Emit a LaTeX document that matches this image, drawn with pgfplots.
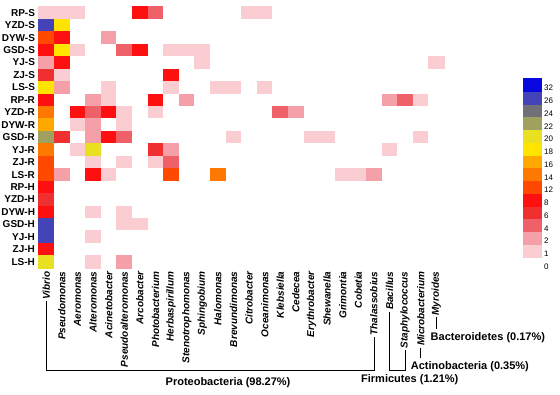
\documentclass[border=0pt]{standalone}
\usepackage{pgfplots}
\pgfplotsset{compat=1.18}
\usepackage{fontspec}
\setmainfont{Liberation Sans}
\pgfplotsset{colormap={abund}{rgb255=(255,255,255) rgb255=(250,205,210) rgb255=(245,160,168) rgb255=(240,96,104) rgb255=(240,48,48) rgb255=(255,16,16) rgb255=(255,72,0) rgb255=(255,120,0) rgb255=(255,168,0) rgb255=(255,228,0) rgb255=(232,224,32) rgb255=(160,160,96) rgb255=(112,112,120) rgb255=(68,68,184) rgb255=(8,8,224)}}
\pgfdeclareplotmark{cell}{\pgfpathrectangle{\pgfpoint{-7.8pt}{-6.225pt}}{\pgfpoint{15.6pt}{12.45pt}}\pgfusepathqfillstroke}
\pgfdeclareplotmark{cbcell}{\pgfpathrectangle{\pgfpoint{-9pt}{-6.37pt}}{\pgfpoint{18pt}{12.74pt}}\pgfusepathqfillstroke}
\newcommand{\xlf}{\bfseries\itshape\fontsize{10}{12}\selectfont}
\newcommand{\phf}{\bfseries\fontsize{11}{13}\selectfont}
\newlength\wVib \newlength\wTha \newlength\wBac \newlength\wSta \newlength\wMic \newlength\wMyr
\begin{document}
\settowidth{\wVib}{\xlf Vibrio}%
\settowidth{\wTha}{\xlf Thalassobius}%
\settowidth{\wBac}{\xlf Bacillus}%
\settowidth{\wSta}{\xlf Staphylococcus}%
\settowidth{\wMic}{\xlf Microbacterium}%
\settowidth{\wMyr}{\xlf Myroides}%
\begin{tikzpicture}
\begin{axis}[
  name=hm, at={(0pt,0pt)}, anchor=north west,
  scale only axis, width=405.6pt, height=261.45pt,
  xmin=-0.5, xmax=25.5, ymin=-0.5, ymax=20.5, y dir=reverse,
  enlargelimits=false, clip=false,
  axis line style={draw=none}, major tick length=0pt,
  xtick={0,...,25}, ytick={0,...,20},
  xticklabels={Vibrio,Pseudomonas,Aeromonas,Alteromonas,Acinetobacter,Pseudoalteromonas,Arcobacter,Photobacterium,Herbaspirillum,Stenotrophomonas,Sphingobium,Halomonas,Brevundimonas,Citrobacter,Oceanimonas,Klebsiella,Cedecea,Erythrobacter,Shewanella,Grimontia,Cobetia,Thalassobius,Bacillus,Staphylococcus,Microbacterium,Myroides},
  yticklabels={RP-S,YZD-S,DYW-S,GSD-S,YJ-S,ZJ-S,LS-S,RP-R,YZD-R,DYW-R,GSD-R,YJ-R,ZJ-R,LS-R,RP-H,YZD-H,DYW-H,GSD-H,YJ-H,ZJ-H,LS-H},
  xticklabel style={rotate=90, anchor=east, font=\xlf},
  yticklabel style={font=\bfseries\fontsize{10}{12}\selectfont},
  colormap name=abund, point meta min=0, point meta max=14,
]
\addplot[scatter, only marks, mark=cell, line width=0.25pt,
  scatter/use mapped color={draw=mapped color, fill=mapped color},
  point meta=explicit] table[row sep=\\,
  x expr={\coordindex-26*floor((\coordindex+0.5)/26)}, y expr={floor((\coordindex+0.5)/26)},
  meta expr={ifthenelse(\thisrow{v}<=2,\thisrow{v},ifthenelse(\thisrow{v}<=8,1+\thisrow{v}/2,ifthenelse(\thisrow{v}<=26,\thisrow{v}/2,14)))}] {
v\\
1\\1\\1\\0\\0\\0\\8\\4\\0\\0\\0\\0\\0\\1\\1\\0\\0\\0\\0\\0\\0\\0\\0\\0\\0\\0\\
26\\18\\0\\0\\0\\0\\0\\0\\0\\0\\0\\0\\0\\0\\0\\0\\0\\0\\0\\0\\0\\0\\0\\0\\0\\0\\
12\\8\\0\\0\\2\\0\\0\\0\\0\\0\\0\\0\\0\\0\\0\\0\\0\\0\\0\\0\\0\\0\\0\\0\\0\\0\\
8\\18\\1\\0\\0\\4\\8\\0\\1\\1\\1\\0\\0\\0\\0\\0\\0\\0\\0\\0\\0\\0\\0\\0\\0\\0\\
2\\8\\0\\0\\0\\0\\0\\0\\0\\0\\1\\0\\0\\0\\0\\0\\0\\0\\0\\0\\0\\0\\0\\0\\0\\1\\
6\\1\\0\\0\\0\\0\\0\\0\\8\\0\\0\\0\\0\\0\\0\\0\\0\\0\\0\\0\\0\\0\\0\\0\\0\\0\\
18\\2\\0\\0\\1\\0\\0\\0\\1\\0\\0\\1\\1\\0\\1\\0\\0\\0\\0\\0\\0\\0\\0\\0\\0\\0\\
8\\0\\0\\2\\1\\0\\0\\8\\0\\2\\0\\0\\0\\0\\0\\0\\0\\0\\0\\0\\0\\0\\2\\4\\1\\0\\
14\\0\\8\\4\\8\\1\\0\\1\\0\\0\\0\\0\\0\\0\\0\\4\\2\\0\\0\\0\\0\\0\\0\\0\\0\\0\\
16\\0\\1\\2\\0\\1\\0\\0\\0\\0\\0\\0\\0\\0\\0\\0\\0\\0\\0\\0\\0\\0\\0\\0\\0\\0\\
22\\6\\0\\2\\8\\4\\0\\0\\0\\0\\0\\0\\1\\0\\0\\0\\0\\1\\1\\0\\0\\0\\0\\0\\1\\0\\
14\\0\\1\\20\\0\\0\\0\\6\\2\\0\\0\\0\\0\\0\\0\\0\\0\\0\\0\\0\\0\\0\\1\\0\\0\\0\\
12\\0\\0\\1\\0\\1\\0\\1\\4\\0\\0\\0\\0\\0\\0\\0\\0\\0\\0\\0\\0\\0\\0\\0\\0\\0\\
12\\2\\0\\8\\1\\0\\0\\0\\12\\0\\0\\14\\0\\0\\0\\0\\0\\0\\0\\1\\1\\2\\0\\0\\0\\0\\
8\\0\\0\\0\\0\\0\\0\\0\\0\\0\\0\\0\\0\\0\\0\\0\\0\\0\\0\\0\\0\\0\\0\\0\\0\\0\\
6\\0\\0\\0\\0\\0\\0\\0\\0\\0\\0\\0\\0\\0\\0\\0\\0\\0\\0\\0\\0\\0\\0\\0\\0\\0\\
8\\0\\0\\1\\0\\1\\0\\0\\0\\0\\0\\0\\0\\0\\0\\0\\0\\0\\0\\0\\0\\0\\0\\0\\0\\0\\
26\\0\\0\\0\\0\\1\\1\\0\\0\\0\\0\\0\\0\\0\\0\\0\\0\\0\\0\\0\\0\\0\\0\\0\\0\\0\\
26\\0\\0\\1\\0\\0\\0\\0\\0\\0\\0\\0\\0\\0\\0\\0\\0\\0\\0\\0\\0\\0\\0\\0\\0\\0\\
8\\0\\0\\0\\0\\0\\0\\0\\0\\0\\0\\0\\0\\0\\0\\0\\0\\0\\0\\0\\0\\0\\0\\0\\0\\0\\
20\\0\\0\\1\\0\\2\\0\\0\\0\\0\\0\\0\\0\\0\\0\\0\\0\\0\\0\\0\\0\\0\\0\\0\\0\\0\\
};
% phylum brackets
\draw[line width=0.8pt] ([yshift={-(\wVib+5.3pt)}]axis cs:0,20.5) -- ([yshift=-102pt]axis cs:0,20.5) -- ([yshift=-102pt]axis cs:21,20.5) -- ([yshift={-(\wTha+5.3pt)}]axis cs:21,20.5);
\draw[line width=0.8pt] ([yshift={-(\wBac+5.3pt)}]axis cs:22,20.5) -- ([yshift=-102.5pt]axis cs:22,20.5) -- ([yshift=-102.5pt]axis cs:23,20.5) -- ([yshift={-(\wSta+5.3pt)}]axis cs:23,20.5);
\draw[line width=0.8pt] ([yshift={-(\wMic+5.3pt)}]axis cs:24,20.5) -- ([yshift=-90pt]axis cs:24,20.5);
\draw[line width=0.8pt] ([yshift={-(\wMyr+5.3pt)}]axis cs:25,20.5) -- ([yshift=-61pt]axis cs:25,20.5);
\node[font=\phf, inner sep=0pt] at ([yshift=-115pt]axis cs:11.65,20.5) {Proteobacteria (98.27\%)};
\node[font=\phf, inner sep=0pt] at ([yshift=-112pt]axis cs:23.3,20.5) {Firmicutes (1.21\%)};
\node[font=\phf, inner sep=0pt, anchor=west] at ([yshift=-99pt]axis cs:23.36,20.5) {Actinobacteria (0.35\%)};
\node[font=\phf, inner sep=0pt, anchor=west] at ([yshift=-70pt]axis cs:24.63,20.5) {Bacteroidetes (0.17\%)};
\end{axis}
\begin{axis}[
  name=cb, at={(484.2pt,-71.8pt)}, anchor=north west,
  scale only axis, width=18pt, height=191.1pt,
  xmin=-0.5, xmax=0.5, ymin=-0.5, ymax=14.5,
  enlargelimits=false, clip=false,
  axis line style={draw=none}, major tick length=0pt,
  xtick=\empty, ytick={0,...,14},
  yticklabels={0,1,2,4,6,8,12,14,16,18,20,22,24,26,32},
  yticklabel pos=right,
  yticklabel style={anchor=west, yshift=-3.5pt, font=\fontsize{8}{9}\selectfont},
  colormap name=abund, point meta min=0, point meta max=14,
]
\addplot[scatter, only marks, mark=cbcell, line width=0.25pt,
  scatter/use mapped color={draw=mapped color, fill=mapped color},
  point meta=explicit] table[row sep=\\,
  meta expr={ifthenelse(\thisrow{v}<=2,\thisrow{v},ifthenelse(\thisrow{v}<=8,1+\thisrow{v}/2,ifthenelse(\thisrow{v}<=26,\thisrow{v}/2,14)))}] {
x y v\\
0 0 0\\ 0 1 1\\ 0 2 2\\ 0 3 4\\ 0 4 6\\ 0 5 8\\ 0 6 12\\ 0 7 14\\
0 8 16\\ 0 9 18\\ 0 10 20\\ 0 11 22\\ 0 12 24\\ 0 13 26\\ 0 14 32\\
};
\end{axis}
\pgfresetboundingbox
\path[use as bounding box] (-38.5pt,6.5pt) rectangle (521.5pt,-388.5pt);
\end{tikzpicture}
\end{document}
